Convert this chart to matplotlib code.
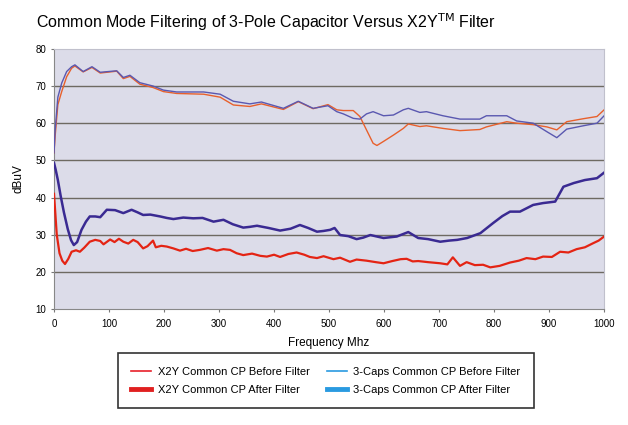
import matplotlib
matplotlib.use('Agg')
import matplotlib.pyplot as plt
from matplotlib.lines import Line2D

plt.rcParams['font.family'] = ['Liberation Sans', 'DejaVu Sans']

# frequency (MHz) / level (dBuV)
f_x2y_before = [0, 2, 7, 14, 23, 32, 38, 53, 69, 84, 114, 126, 138, 156, 180, 199, 223, 272, 302, 326,
                356, 377, 417, 444, 471, 498, 514, 526, 544, 556, 568, 580, 587, 599, 617, 635, 644, 665,
                677, 707, 738, 774, 786, 823, 841, 871, 896, 914, 932, 962, 987, 1000]
x2y_before = [52, 56.4, 65, 68.5, 72.5, 74.8, 75.4, 73.8, 75.0, 73.5, 74.0, 72.0, 72.6, 70.5, 69.6, 68.5,
              68.0, 67.8, 67.0, 64.9, 64.5, 65.2, 63.7, 65.8, 63.9, 65.0, 63.6, 63.4, 63.4, 61.8, 58.2,
              54.6, 54.0, 55.1, 56.8, 58.6, 59.8, 59.1, 59.3, 58.6, 58.0, 58.3, 59.0, 60.4, 60.0, 59.6,
              59.0, 58.2, 60.4, 61.2, 61.8, 63.6]

f_caps_before = [0, 2, 7, 14, 23, 32, 38, 53, 69, 84, 114, 126, 138, 156, 180, 199, 223, 272, 302, 326,
                 356, 377, 417, 444, 471, 498, 514, 526, 544, 556, 568, 580, 599, 617, 635, 644, 665,
                 677, 707, 738, 774, 786, 823, 841, 871, 896, 914, 932, 962, 987, 1000]
caps_before = [52, 58, 67, 70.8, 73.9, 75.2, 75.7, 73.9, 75.2, 73.7, 74.1, 72.3, 72.9, 70.9, 70.0, 68.9,
               68.4, 68.4, 67.8, 65.9, 65.2, 65.7, 64.0, 65.9, 64.0, 64.7, 63.1, 62.5, 61.3, 61.1, 62.5,
               63.1, 62.0, 62.2, 63.6, 64.0, 62.9, 63.1, 62.0, 61.1, 61.1, 62.0, 62.0, 60.6, 60.0, 57.7,
               56.1, 58.4, 59.3, 60.0, 62.0]

f_x2y_after = [0, 5, 10, 15, 20, 26, 32, 40, 47, 55, 65, 75, 84, 90, 102, 110, 118, 126, 135, 144, 152,
               162, 170, 180, 185, 195, 205, 217, 229, 240, 252, 265, 280, 296, 308, 320, 332, 344, 360,
               375, 387, 400, 411, 426, 441, 455, 465, 478, 490, 508, 520, 538, 550, 568, 585, 599, 615,
               630, 641, 652, 662, 680, 702, 715, 725, 738, 750, 765, 780, 793, 810, 829, 845, 859, 875,
               889, 905, 920, 935, 950, 965, 980, 990, 1000]
x2y_after = [41, 30, 25, 23, 22.1, 23.5, 25.4, 25.8, 25.4, 26.5, 28.1, 28.6, 28.3, 27.4, 28.7, 28.0, 28.9,
             28.1, 27.6, 28.6, 28.0, 26.3, 26.9, 28.4, 26.6, 27.0, 26.8, 26.3, 25.7, 26.2, 25.6, 25.9,
             26.4, 25.7, 26.1, 25.9, 25.0, 24.5, 24.9, 24.3, 24.1, 24.6, 24.0, 24.8, 25.2, 24.6, 24.0,
             23.7, 24.2, 23.4, 23.8, 22.7, 23.3, 23.0, 22.6, 22.3, 22.9, 23.4, 23.5, 22.8, 22.9, 22.6,
             22.3, 22.0, 23.9, 21.6, 22.6, 21.8, 21.9, 21.2, 21.6, 22.5, 23.0, 23.7, 23.4, 24.1, 24.0,
             25.4, 25.2, 26.1, 26.6, 27.7, 28.4, 29.5]

f_caps_after = [0, 3, 7, 12, 18, 25, 31, 36, 42, 50, 58, 65, 75, 84, 96, 111, 126, 141, 152, 162, 175,
                193, 205, 217, 235, 253, 270, 290, 308, 325, 344, 356, 369, 390, 411, 430, 447, 462, 478,
                490, 502, 510, 520, 535, 550, 562, 575, 599, 623, 644, 662, 680, 702, 718, 733, 751, 775,
                798, 815, 829, 847, 871, 889, 911, 926, 945, 965, 987, 1000]
caps_after = [49.3, 47.5, 44.7, 40.5, 36.0, 31.5, 28.5, 27.2, 28.0, 31.3, 33.5, 34.9, 34.9, 34.7, 36.7,
              36.6, 35.8, 36.7, 36.0, 35.3, 35.4, 34.9, 34.5, 34.2, 34.6, 34.4, 34.5, 33.5, 34.0, 32.8,
              31.9, 32.1, 32.4, 31.8, 31.1, 31.6, 32.6, 31.8, 30.8, 31.0, 31.3, 31.8, 29.9, 29.6, 28.8,
              29.2, 29.9, 29.1, 29.5, 30.7, 29.1, 28.8, 28.1, 28.4, 28.6, 29.1, 30.4, 33.1, 35.0, 36.2,
              36.2, 38.0, 38.5, 38.9, 42.9, 43.9, 44.7, 45.2, 46.7]

legend_labels = ['X2Y Common CP Before Filter', 'X2Y Common CP After Filter',
                 '3-Caps Common CP Before Filter', '3-Caps Common CP After Filter']

fig = plt.figure(figsize=(6.28, 4.25), dpi=100)
ax = fig.add_axes([0.086, 0.273, 0.876, 0.612])
ax.set_facecolor('#dcdce9')

ax.plot(f_x2y_before, x2y_before, color='#e8602c', lw=1.0, zorder=3)
ax.plot(f_caps_before, caps_before, color='#5a58b0', lw=1.0, zorder=3)
ax.plot(f_x2y_after, x2y_after, color='#e42414', lw=1.6, zorder=3)
ax.plot(f_caps_after, caps_after, color='#3a2a92', lw=1.8, zorder=3)

ax.set_xlim(0, 1000)
ax.set_ylim(10, 80)
ax.set_xticks(range(0, 1001, 100))
ax.set_yticks(range(10, 81, 10))
ax.tick_params(labelsize=7, length=2, color='#777777')
ax.tick_params(axis='x', pad=5)
for y in range(20, 80, 10):
    ax.axhline(y, color='#6e6a62', lw=1.0, zorder=1)
for s in ['top', 'right']:
    ax.spines[s].set_color('#c0c0cc')
for s in ['left', 'bottom']:
    ax.spines[s].set_color('#888888')

ax.set_xlabel('Frequency Mhz', fontsize=8.5, labelpad=6)
ax.set_ylabel('dBuV', fontsize=8.5, labelpad=8)

fig.text(0.424, 0.948, 'Common Mode Filtering of 3-Pole Capacitor Versus X2Y$^{\\mathrm{TM}}$ Filter',
         ha='center', va='center', fontsize=11.5)

handles = [Line2D([], [], color='#e8202a', lw=1.2),
           Line2D([], [], color='#e02020', lw=3.5),
           Line2D([], [], color='#2a9ae0', lw=1.2),
           Line2D([], [], color='#2a9ae0', lw=3.5)]
leg = fig.legend(handles, legend_labels, ncol=2, loc='upper left', bbox_to_anchor=(0.188, 0.169),
                 fontsize=8, frameon=True, fancybox=False, handlelength=1.8, columnspacing=1.5,
                 borderpad=1.2, labelspacing=0.75, handletextpad=0.6, borderaxespad=0)
leg.get_frame().set_edgecolor('black')
leg.get_frame().set_linewidth(1.2)

fig.savefig('out.png', dpi=100)
